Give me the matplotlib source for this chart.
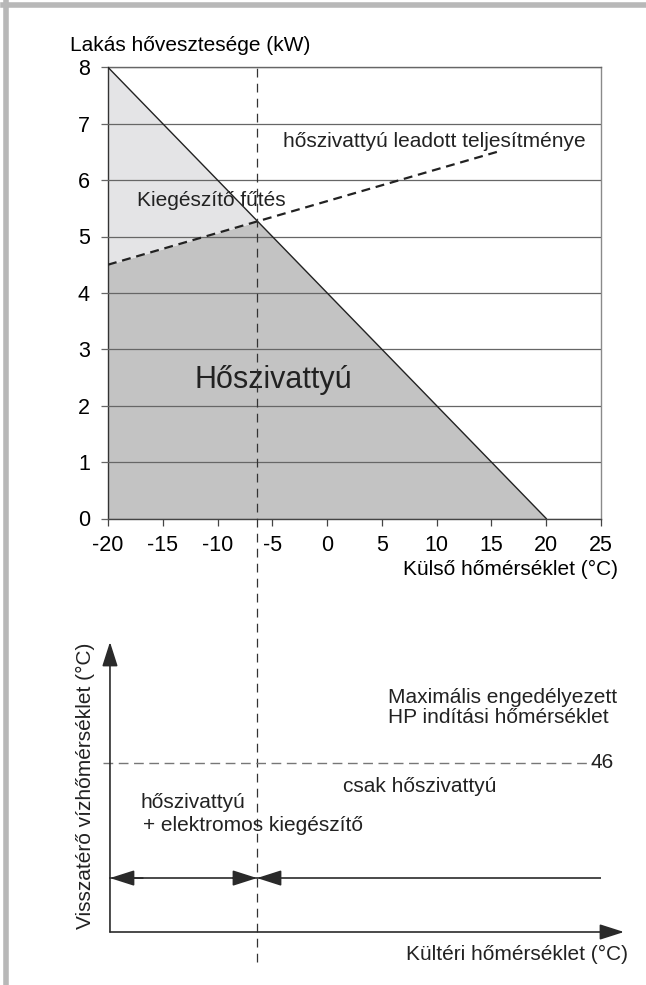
import matplotlib
matplotlib.use('Agg')
import matplotlib.pyplot as plt
from matplotlib.lines import Line2D
import numpy as np

plt.rcParams['font.family'] = ['Liberation Sans', 'DejaVu Sans']
plt.rcParams['axes.unicode_minus'] = False

# felső diagram: lakás hővesztesége és hőszivattyú teljesítménye
loss_x = [-20, 20]
loss_kw = [8, 0]
hp_x = [-20, 15.5]
hp_kw = [4.5, 6.5]
balance_temp = -6.4
x_ticks = [-20, -15, -10, -5, 0, 5, 10, 15, 20, 25]
y_ticks = [0, 1, 2, 3, 4, 5, 6, 7, 8]

# alsó vázlat
start_temp_label = '46'
start_level = 0.583
arrow_level = 0.186

dark_gray = '#c3c3c3'
light_gray = '#e4e4e6'
ink = '#222222'

fig = plt.figure(figsize=(6.46, 9.85), dpi=100)

# szürke keret bal és felső oldalon
fig.add_artist(Line2D([5.5 / 646, 5.5 / 646], [0, 1], transform=fig.transFigure,
                      color='#b8b8b8', lw=4))
fig.add_artist(Line2D([3 / 646, 1], [1 - 5 / 985, 1 - 5 / 985], transform=fig.transFigure,
                      color='#b8b8b8', lw=4))

ax = fig.add_axes([108 / 646, 1 - 518.5 / 985, 493 / 646, 451.2 / 985])
ax.set_xlim(-20, 25)
ax.set_ylim(0, 8)

xf = np.linspace(-20, 20, 801)
loss_f = np.interp(xf, loss_x, loss_kw)
hp_f = np.interp(xf, hp_x, hp_kw)
covered = np.minimum(loss_f, hp_f)
ax.fill_between(xf, 0, covered, color=dark_gray, lw=0, zorder=1)
ax.fill_between(xf, covered, loss_f, color=light_gray, lw=0, zorder=1)

ax.set_yticks(y_ticks)
ax.set_xticks(x_ticks)
ax.grid(axis='y', color='#666666', lw=0.9, zorder=1.5)
ax.set_axisbelow(False)
ax.tick_params(axis='y', direction='out', length=5, width=0.9, color='#666666',
               labelsize=15.5, pad=8)
ax.tick_params(axis='x', direction='out', length=5, width=0.9, color='#444444',
               labelsize=15.5, pad=7)
ax.spines['left'].set_color('#333333')
ax.spines['bottom'].set_color('#444444')
ax.spines['top'].set_color('#666666')
ax.spines['right'].set_color('#8a8a8a')
for s in ax.spines.values():
    s.set_linewidth(1.0)

ax.plot(loss_x, loss_kw, color=ink, lw=1.0, zorder=3)
ax.plot(hp_x, hp_kw, color=ink, lw=1.6, dashes=(4, 2.6), zorder=3)
ax.axvline(balance_temp, ymin=(518.5 - 962) / 451.2, ymax=1, color='#333333',
           lw=0.9, dashes=(7, 5), clip_on=False, zorder=4)

ax.text(-4.0, 6.68, 'hőszivattyú leadott teljesítménye', fontsize=15,
        ha='left', va='center', color=ink)
ax.text(-17.35, 5.63, 'Kiegészítő fűtés', fontsize=15, ha='left', va='center', color=ink)
ax.text(-12.06, 2.46, 'Hőszivattyú', fontsize=22, ha='left', va='center', color=ink)

ax.set_ylabel('Lakás hővesztesége (kW)', fontsize=15, rotation=0, ha='left', va='center')
ax.yaxis.set_label_coords(-0.077, 1.049)
ax.set_xlabel('Külső hőmérséklet (°C)', fontsize=15, ha='right', va='center')
ax.xaxis.set_label_coords(1.034, -0.114)

# alsó vázlat: visszatérő vízhőmérséklet
bx = fig.add_axes([108 / 646, 1 - 932 / 985, 493 / 646, 290 / 985])
bx.set_xlim(-20, 25)
bx.set_ylim(0, 1)
bx.axis('off')

axis_x = -19.82
head = dict(arrowstyle='-|>,head_length=1.0,head_width=0.32', color='#2a2a2a', lw=1.2,
            shrinkA=0, shrinkB=0, mutation_scale=15)
bx.annotate('', xy=(axis_x, 1.0), xytext=(axis_x, 0), arrowprops=head,
            annotation_clip=False)
bx.annotate('', xy=(27.1, 0), xytext=(axis_x, 0), arrowprops=head,
            annotation_clip=False)

bx.plot([axis_x, 25.5], [arrow_level, arrow_level], color='#2a2a2a', lw=1.2)
bx.annotate('', xy=(axis_x, arrow_level), xytext=(axis_x + 3, arrow_level),
            arrowprops=head)
bx.annotate('', xy=(balance_temp, arrow_level), xytext=(balance_temp - 2.2, arrow_level),
            arrowprops=head)
bx.annotate('', xy=(balance_temp, arrow_level), xytext=(balance_temp + 2.0, arrow_level),
            arrowprops=head)

bx.plot([-20.46, 24.4], [start_level, start_level], color='#777777', lw=1.0,
        dashes=(7, 4), clip_on=False)
bx.text(24.07, start_level, start_temp_label, fontsize=15, ha='left', va='center',
        color=ink)

bx.text(5.55, 0.774, 'Maximális engedélyezett\nHP indítási hőmérséklet', fontsize=15,
        ha='left', va='center', linespacing=1.05, color=ink)
bx.text(1.44, 0.503, 'csak hőszivattyú', fontsize=15, ha='left', va='center', color=ink)
bx.text(-16.99, 0.448, 'hőszivattyú', fontsize=15, ha='left', va='center', color=ink)
bx.text(-16.84, 0.366, '+ elektromos kiegészítő', fontsize=15, ha='left', va='center',
        color=ink)
bx.text(27.45, -0.079, 'Kültéri hőmérséklet (°C)', fontsize=15, ha='right', va='center',
        color=ink, clip_on=False)
bx.text(-22.1, 0.503, 'Visszatérő vízhőmérséklet (°C)', fontsize=15, rotation=90,
        ha='center', va='center', color=ink, clip_on=False)

fig.savefig('out.png', dpi=100)
